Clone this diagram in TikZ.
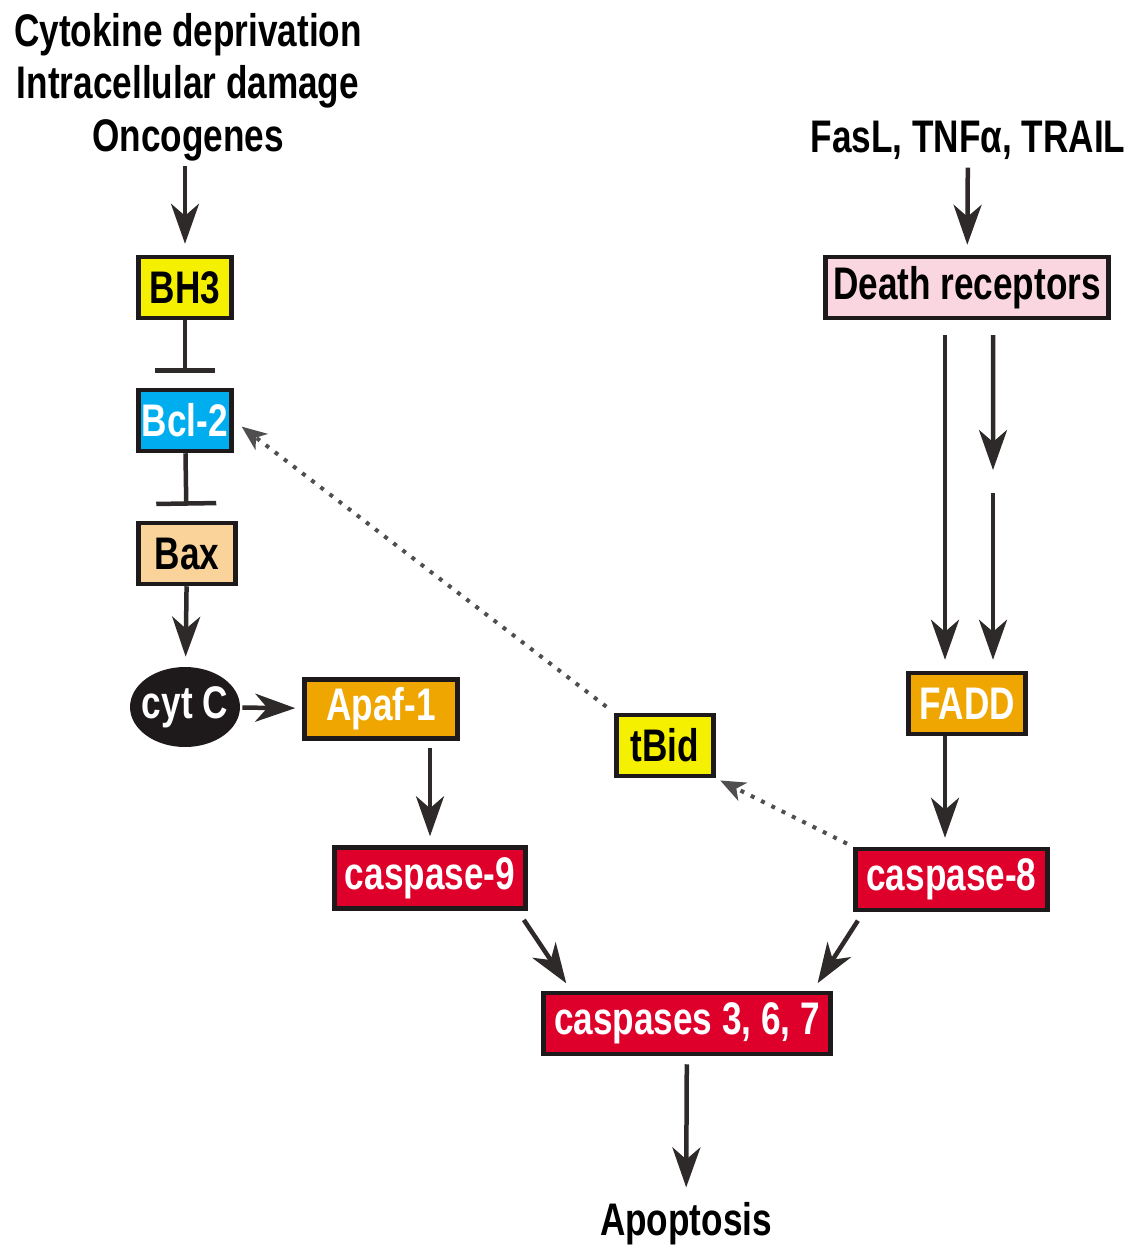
\documentclass[tikz,border=0pt]{standalone}
\usepackage{fontspec}
\setmainfont{Liberation Sans}[FakeStretch=0.77]
\usetikzlibrary{arrows.meta,shapes.geometric}
\definecolor{ink}{RGB}{46,42,41}
\definecolor{boxline}{RGB}{30,26,27}
\definecolor{bhyel}{RGB}{245,240,0}
\definecolor{bclblue}{RGB}{0,174,239}
\definecolor{baxtan}{RGB}{249,211,154}
\definecolor{apaforange}{RGB}{240,166,0}
\definecolor{casred}{RGB}{222,0,43}
\definecolor{drpink}{RGB}{250,215,224}
\definecolor{dotgray}{RGB}{80,78,78}
\newcommand{\pathfont}{\fontsize{26}{30}\selectfont\bfseries}
\tikzset{
  prot/.style={draw=boxline,line width=0.9mm,inner sep=0pt,minimum height=1.22cm,font=\pathfont},
  act/.style={ink,line width=0.9mm,-{Stealth[length=8mm,width=5.6mm,inset=2.4mm]}},
  inh/.style={ink,line width=0.9mm,-{Bar[width=12mm]}},
  trunc/.style={dotgray,line width=0.8mm,dash pattern=on 0.8mm off 1.5mm,-{Stealth[length=5mm,width=4mm,inset=1.4mm]}},
  stim/.style={font=\pathfont,align=center,inner sep=0pt}
}
\begin{document}
\begin{tikzpicture}[x=0.02cm,y=-0.02cm]
  \useasboundingbox (0,0) rectangle (1129,1245);
  % intrinsic pathway
  \node[stim] (cause) at (188,87) {Cytokine deprivation\\Intracellular damage\\Oncogenes};
  \node[prot,fill=bhyel,minimum width=1.86cm] (bh3) at (185,287.5) {BH3};
  \node[prot,fill=bclblue,text=white,minimum width=1.86cm] (bcl2) at (185,420.5) {Bcl-2};
  \node[prot,fill=baxtan,minimum width=1.94cm] (bax) at (187,553.5) {Bax};
  \node[ellipse,fill=boxline,text=white,inner xsep=-0.14cm,inner ysep=0pt,minimum width=2.2cm,minimum height=1.6cm,font=\pathfont] (cytc) at (185,707) {cyt C};
  \node[prot,fill=apaforange,text=white,minimum width=3.06cm,minimum height=1.18cm] (apaf) at (381,709) {Apaf-1};
  \node[prot,fill=casred,text=white,minimum width=3.82cm] (casp9) at (430,878) {caspase-9};
  % extrinsic pathway
  \node[stim] (fas) at (968,140) {FasL, TNFα, TRAIL};
  \node[prot,fill=drpink,minimum width=5.66cm] (dr) at (967,287.5) {Death receptors};
  \node[prot,fill=apaforange,text=white,minimum width=2.34cm] (fadd) at (967,703.5) {FADD};
  \node[prot,fill=casred,text=white,minimum width=3.84cm] (casp8) at (951.5,879.5) {caspase-8};
  \node[prot,fill=bhyel,minimum width=1.94cm] (tbid) at (665,745.5) {tBid};
  \coordinate (drgap) at (993,481);
  % execution
  \node[prot,fill=casred,text=white,minimum width=5.74cm] (casp) at (687,1023.5) {caspases 3, 6, 7};
  \node[stim] (apop) at (686,1224) {Apoptosis};
  % connectors
  \draw[act,shorten <=0.1cm,shorten >=0.22cm] (cause.south -| bh3.north) -- (bh3.north);
  \draw[inh,shorten >=0.3cm] (bh3) -- (bcl2); \draw[inh,shorten >=0.3cm] (bcl2) -- (bax);
  \draw[act,shorten >=0.2cm] (bax) -- (cytc);
  \draw[act,shorten <=0.04cm,shorten >=0.14cm] (cytc) -- (apaf);
  \draw[act,shorten <=0.14cm,shorten >=0.18cm] (casp9.north |- apaf.south) -- (casp9.north);
  \draw[act,shorten <=0.16cm,shorten >=0.2cm] (fas) -- (dr);
  \draw[act,shorten <=0.3cm,shorten >=0.22cm] ([xshift=-0.44cm]dr.south) -- ([xshift=-0.44cm]fadd.north);
  \draw[act,shorten <=0.3cm,shorten >=0.22cm] ([xshift=0.52cm]dr.south) -- (drgap);
  \draw[act,shorten <=0.24cm,shorten >=0.22cm] (drgap) -- (drgap |- fadd.north);
  \draw[act,shorten >=0.18cm] ([xshift=-0.44cm]fadd.south) -- ([xshift=-0.44cm]fadd.south |- casp8.north);
  \draw[act,shorten <=0.22cm,shorten >=0.18cm] ([xshift=-0.2cm]casp9.south east) -- ([xshift=0.6cm]casp.north west);
  \draw[act,shorten <=0.2cm,shorten >=0.18cm] ([xshift=0.2cm]casp8.south west) -- ([xshift=-0.4cm]casp.north east);
  \draw[act,shorten <=0.16cm,shorten >=0.3cm] (casp) -- (apop);
  \draw[trunc,shorten <=0.14cm,shorten >=0.1cm] (casp8.north west) -- (tbid.south east);
  \draw[trunc,shorten <=0.2cm,shorten >=0.2cm] (tbid.north west) -- (bcl2.east);
\end{tikzpicture}
\end{document}
